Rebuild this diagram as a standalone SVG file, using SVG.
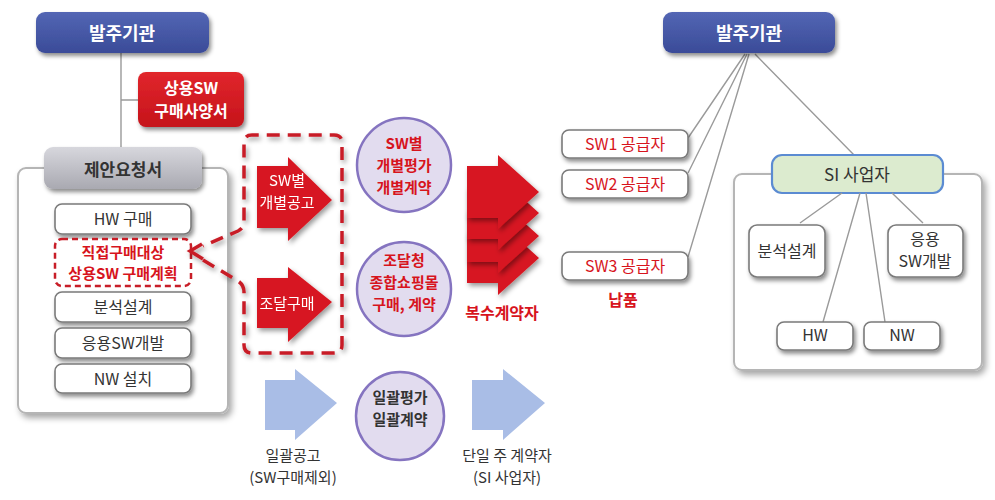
<svg xmlns="http://www.w3.org/2000/svg" width="995" height="500" viewBox="0 0 995 500">
<style>
text{font-family:"Noto Sans CJK KR","Noto Sans",sans-serif;text-anchor:middle}
.wb{fill:#fff;stroke:#7a7a7a;stroke-width:1.6}
.ob{fill:#fff;stroke:#b5b5b5;stroke-width:2}
.t16{font-size:16px;fill:#333}
.t15{font-size:15px;fill:#333}
.tw{fill:#fff;font-weight:bold}
.twm{fill:#fff;font-size:15px}
.tr{fill:#d7141d;font-weight:bold}
.circ{fill:#e2dcef;stroke:#8574c0;stroke-width:2.5}
.ln{stroke:#9a9a9a;stroke-width:1.4;fill:none}
.dash{fill:none;stroke:#c81e28;stroke-width:3.5;stroke-dasharray:13 8;stroke-linecap:butt}
.ra{fill:#d71920}
.ba{fill:#a9bde6}
</style>
<defs>
<linearGradient id="gb" x1="0" y1="0" x2="0" y2="1"><stop offset="0" stop-color="#5366b4"/><stop offset="1" stop-color="#3a4b98"/></linearGradient>
<linearGradient id="gg" x1="0" y1="0" x2="0" y2="1"><stop offset="0" stop-color="#d7d7dd"/><stop offset="1" stop-color="#a9a9b1"/></linearGradient>
<linearGradient id="gr" x1="0" y1="0" x2="0" y2="1"><stop offset="0" stop-color="#e1262c"/><stop offset="1" stop-color="#c5131b"/></linearGradient>
<filter id="sh" x="-20%" y="-20%" width="150%" height="160%"><feDropShadow dx="2" dy="3" stdDeviation="2" flood-color="#000" flood-opacity="0.45"/></filter>
<filter id="sh2" x="-10%" y="-10%" width="130%" height="130%"><feDropShadow dx="3" dy="4" stdDeviation="3" flood-color="#000" flood-opacity="0.35"/></filter>
<filter id="sh3" x="-30%" y="-30%" width="170%" height="170%"><feDropShadow dx="2" dy="3" stdDeviation="2.5" flood-color="#000" flood-opacity="0.4"/></filter>
</defs>

<g id="connectors">
<path class="ln" d="M121 53V148M121 100H138"/>
<path class="ln" d="M745 54L688 138M747 54L688 173M749 54L688 257M755 54L855 156"/>
</g>

<g id="left-client"><rect x="36" y="12" width="173" height="41" rx="9" fill="url(#gb)" filter="url(#sh)"/><text x="122" y="40" class="tw" font-size="18">발주기관</text></g>
<g id="sw-spec"><rect x="138" y="72" width="106" height="55" rx="8" fill="url(#gr)" filter="url(#sh)"/><text x="191" y="94" class="tw" font-size="16">상용SW</text><text x="191" y="117" class="tw" font-size="16">구매사양서</text></g>

<g id="rfp">
<rect x="18" y="168" width="210" height="245" rx="8" class="ob" filter="url(#sh2)"/>
<rect x="44" y="147" width="158" height="42" rx="9" fill="url(#gg)" filter="url(#sh)"/>
<text x="123" y="176" font-size="17" font-weight="bold" fill="#333">제안요청서</text>
</g>
<g id="hw-buy"><rect x="55" y="204" width="136" height="30" rx="7" class="wb" filter="url(#sh)"/><text x="123" y="225" class="t16">HW 구매</text></g>
<g id="direct-plan"><rect x="55" y="239" width="136" height="47" rx="7" fill="#fff" stroke="#c81e28" stroke-width="2.5" stroke-dasharray="6 4"/><text x="123" y="258" class="tr" font-size="15">직접구매대상</text><text x="123" y="279" class="tr" font-size="15">상용SW 구매계획</text></g>
<g id="analysis-l"><rect x="55" y="292" width="136" height="30" rx="7" class="wb" filter="url(#sh)"/><text x="123" y="313" class="t16">분석설계</text></g>
<g id="appdev-l"><rect x="55" y="328" width="136" height="30" rx="7" class="wb" filter="url(#sh)"/><text x="123" y="349" class="t16">응용SW개발</text></g>
<g id="nw-l"><rect x="55" y="364" width="136" height="29" rx="7" class="wb" filter="url(#sh)"/><text x="123" y="385" class="t16">NW 설치</text></g>

<g id="dashed-frame" filter="url(#sh3)">
<path class="dash" d="M203 260L238 281Q244 285 244 292V345Q244 353 252 353H334Q342 353 342 345V143Q342 135 334 135H252Q244 135 244 143V221Q244 228 238 231L203 246"/>
<polyline points="202,244 190,251 203,259" fill="none" stroke="#c81e28" stroke-width="3.5"/>
</g>

<g id="arrow-sw" filter="url(#sh3)"><polygon class="ra" points="257,166 288,166 288,157 332,200 288,241 288,228 257,228"/><text x="287" y="186" class="twm">SW별</text><text x="287" y="208" class="twm">개별공고</text></g>
<g id="arrow-pps" filter="url(#sh3)"><polygon class="ra" points="257,278 288,278 288,267 332,302 288,342 288,328 257,328"/><text x="287" y="309" class="twm">조달구매</text></g>

<g id="circle-sw"><circle cx="404" cy="165" r="47" class="circ"/><text x="404" y="149" class="tr" font-size="15">SW별</text><text x="404" y="171" class="tr" font-size="15">개별평가</text><text x="404" y="193" class="tr" font-size="15">개별계약</text></g>
<g id="circle-pps"><circle cx="404" cy="289" r="47" class="circ"/><text x="404" y="266" class="tr" font-size="15">조달청</text><text x="404" y="288" class="tr" font-size="15">종합쇼핑몰</text><text x="404" y="310" class="tr" font-size="15">구매, 계약</text></g>
<g id="circle-all"><circle cx="400" cy="416" r="44" class="circ"/><text x="400" y="403" font-size="15" font-weight="bold" fill="#333">일괄평가</text><text x="400" y="425" font-size="15" font-weight="bold" fill="#333">일괄계약</text></g>

<g id="blue-arrow-1"><polygon class="ba" points="265,380 295,380 295,369 337,403 295,440 295,430 265,430"/><text x="293" y="461" class="t15">일괄공고</text><text x="293" y="483" class="t15">(SW구매제외)</text></g>
<g id="blue-arrow-2"><polygon class="ba" points="472,380 503,380 503,369 545,403 503,440 503,430 472,430"/><text x="507" y="461" class="t15">단일 주 계약자</text><text x="507" y="483" class="t15">(SI 사업자)</text></g>

<g id="multi-contract">
<polygon class="ra" filter="url(#sh3)" points="467,232 498,232 498,221 539,258 498,295 498,283 467,283"/>
<polygon class="ra" filter="url(#sh3)" points="467,210 498,210 498,199 539,236 498,273 498,262 467,262"/>
<polygon class="ra" filter="url(#sh3)" points="467,187 498,187 498,176 539,213 498,250 498,239 467,239"/>
<polygon class="ra" filter="url(#sh3)" points="467,166 498,166 498,155 539,192 498,229 498,218 467,218"/>
<text x="502" y="319" class="tr" font-size="16">복수계약자</text>
</g>

<g id="sw1"><rect x="562" y="130" width="126" height="28" rx="7" class="wb" filter="url(#sh)"/><text x="625" y="150" font-size="16" fill="#d7141d">SW1 공급자</text></g>
<g id="sw2"><rect x="562" y="170" width="126" height="28" rx="7" class="wb" filter="url(#sh)"/><text x="625" y="190" font-size="16" fill="#d7141d">SW2 공급자</text></g>
<g id="sw3"><rect x="562" y="252" width="126" height="28" rx="7" class="wb" filter="url(#sh)"/><text x="625" y="272" font-size="16" fill="#d7141d">SW3 공급자</text></g>
<text x="623" y="306" class="tr" font-size="16">납품</text>

<g id="right-client"><rect x="663" y="12" width="172" height="41" rx="9" fill="url(#gb)" filter="url(#sh)"/><text x="749" y="40" class="tw" font-size="18">발주기관</text></g>

<g id="si-box"><rect x="734" y="174" width="248" height="196" rx="8" class="ob" filter="url(#sh2)"/></g>
<g id="si"><rect x="772" y="155" width="171" height="38" rx="10" fill="#dcebcf" stroke="#5b8bd2" stroke-width="2.2"/><text x="857" y="181" font-size="17" fill="#333">SI 사업자</text></g>
<g id="si-connectors"><path class="ln" d="M842 193L800 223M860 193L823 322M866 193L885 322M892 193L923 223"/></g>
<g id="analysis-r"><rect x="749" y="225" width="76" height="52" rx="8" class="wb" filter="url(#sh)"/><text x="787" y="257" class="t16" font-size="17">분석설계</text></g>
<g id="appdev-r"><rect x="888" y="225" width="75" height="52" rx="8" class="wb" filter="url(#sh)"/><text x="925" y="245" class="t16">응용</text><text x="925" y="267" class="t16">SW개발</text></g>
<g id="hw-r"><rect x="777" y="322" width="76" height="28" rx="7" class="wb" filter="url(#sh)"/><text x="815" y="341" class="t16">HW</text></g>
<g id="nw-r"><rect x="864" y="322" width="76" height="28" rx="7" class="wb" filter="url(#sh)"/><text x="902" y="341" class="t16">NW</text></g>
</svg>
